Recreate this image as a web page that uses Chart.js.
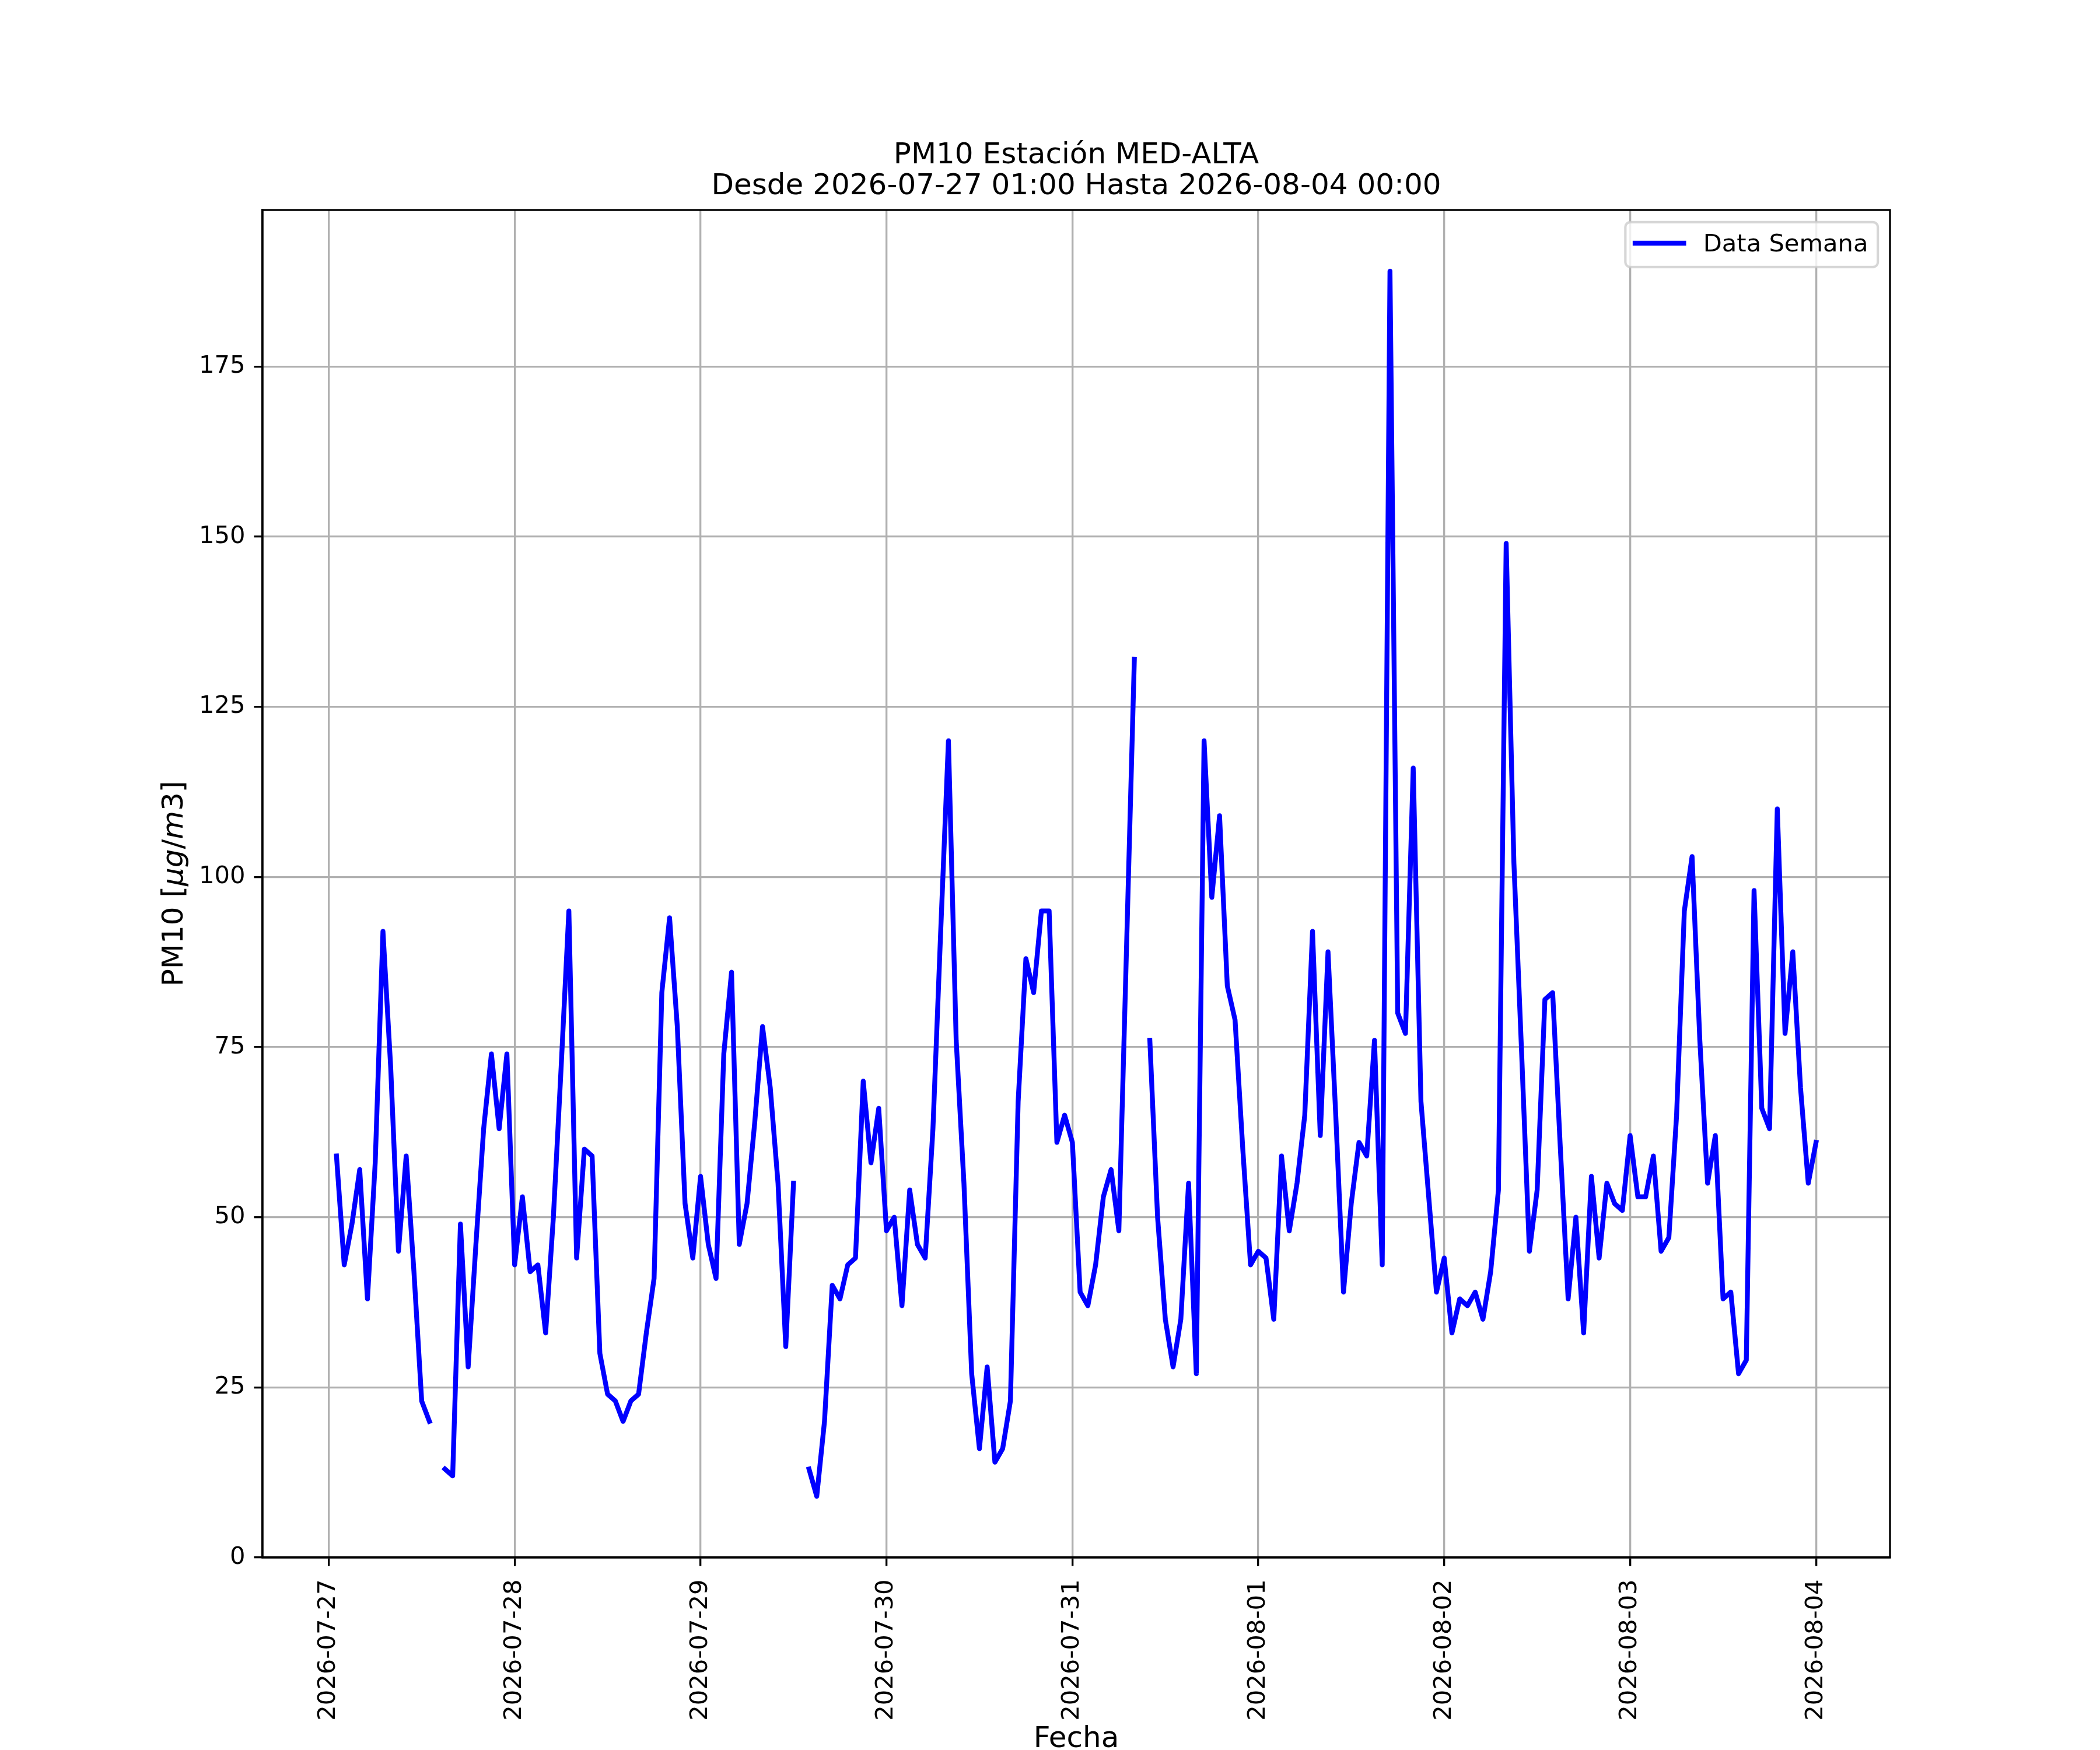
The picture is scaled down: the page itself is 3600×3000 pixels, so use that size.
<!DOCTYPE html>
<html>
<head>
<meta charset="utf-8">
<title>PM10 Estación MED-ALTA</title>
<script src="https://cdn.jsdelivr.net/npm/chart.js@4.4.1/dist/chart.umd.min.js"></script>
<style>
  html, body { margin: 0; padding: 0; background: #fff; }
  #pm10 { display: block; width: 3600px; height: 3000px; }
</style>
</head>
<body>
<canvas id="pm10" width="3600" height="3000"></canvas>
<script>
// valores horarios PM10, cada fila = 01:00 .. 00:00 del dia siguiente (null = sin dato)
const day0727 = [59, 43, 49, 57, 38, 58, 92, 72, 45, 59, 42, 23, 20, null, 13, 12, 49, 28, 46, 63, 74, 63, 74, 43];
const day0728 = [53, 42, 43, 33, 50, 72, 95, 44, 60, 59, 30, 24, 23, 20, 23, 24, 33, 41, 83, 94, 78, 52, 44, 56];
const day0729 = [46, 41, 74, 86, 46, 52, 64, 78, 69, 55, 31, 55, null, 13, 9, 20, 40, 38, 43, 44, 70, 58, 66, 48];
const day0730 = [50, 37, 54, 46, 44, 63, 92, 120, 76, 55, 27, 16, 28, 14, 16, 23, 67, 88, 83, 95, 95, 61, 65, 61];
const day0731 = [39, 37, 43, 53, 57, 48, 90, 132, null, 76, 50, 35, 28, 35, 55, 27, 120, 97, 109, 84, 79, 60, 43, 45];
const day0801 = [44, 35, 59, 48, 55, 65, 92, 62, 89, 65, 39, 52, 61, 59, 76, 43, 189, 80, 77, 116, 67, 53, 39, 44];
const day0802 = [33, 38, 37, 39, 35, 42, 54, 149, 102, 74, 45, 54, 82, 83, 60, 38, 50, 33, 56, 44, 55, 52, 51, 62];
const day0803 = [53, 53, 59, 45, 47, 65, 95, 103, 76, 55, 62, 38, 39, 27, 29, 98, 66, 63, 110, 77, 89, 69, 55, 61];

const pm10 = [].concat(day0727, day0728, day0729, day0730, day0731, day0801, day0802, day0803);

// eje x en horas desde 2026-07-27 00:00
const firstHour = 1;
const tickHours = [0, 24, 48, 72, 96, 120, 144, 168, 192];
const tickLabels = ['2026-07-27', '2026-07-28', '2026-07-29', '2026-07-30', '2026-07-31',
                    '2026-08-01', '2026-08-02', '2026-08-03', '2026-08-04'];
const yTicks = [0, 25, 50, 75, 100, 125, 150, 175];

const titleLines = ['PM10 Estación MED-ALTA', 'Desde 2026-07-27 01:00 Hasta 2026-08-04 00:00'];
const xLabel = 'Fecha';
const yLabelParts = [['PM10 [', ''], ['μg', 'italic '], ['/', ''], ['m', 'italic '], ['3', ''], [']', '']];
const seriesName = 'Data Semana';

const PT = 300 / 72;          // figura a 300 dpi
const FONT = '"DejaVu Sans"';
const tickFont = { family: 'DejaVu Sans', size: 10 * PT };
const LINE_W = 2 * PT;

const points = pm10.map((v, i) => ({ x: firstHour + i, y: v }));

// margenes 5% como matplotlib
const xMin = firstHour - 0.05 * (pm10.length - 1);
const xMax = firstHour + (pm10.length - 1) * 1.05;

function axisStyle() {
    return {
        grid: { color: '#b0b0b0', lineWidth: 0.8 * PT, tickColor: '#000', tickLength: 3.5 * PT, tickWidth: 0.8 * PT },
        border: { display: true, color: '#000', width: 0.8 * PT }
    };
}

// textos de la figura, marco y leyenda
const figureText = {
    id: 'figureText',
    afterDraw(chart) {
        const { ctx, chartArea: a } = chart;
        const cx = (a.left + a.right) / 2;
        ctx.save();

        ctx.strokeStyle = '#000';
        ctx.lineWidth = 0.8 * PT;
        ctx.strokeRect(a.left, a.top, a.right - a.left, a.bottom - a.top);

        ctx.fillStyle = '#000';
        ctx.textBaseline = 'alphabetic';
        ctx.textAlign = 'center';
        ctx.font = `${12 * PT}px ${FONT}`;
        ctx.fillText(titleLines[0], cx, a.top - 80);
        ctx.fillText(titleLines[1], cx, a.top - 27);
        ctx.fillText(xLabel, cx, chart.height - 5);

        // etiqueta y con parte matematica en cursiva
        ctx.textAlign = 'left';
        let total = 0;
        yLabelParts.forEach(p => {
            ctx.font = `${p[1]}${12 * PT}px ${FONT}`;
            total += ctx.measureText(p[0]).width;
        });
        ctx.translate(a.left - 137, (a.top + a.bottom) / 2);
        ctx.rotate(-Math.PI / 2);
        let px = -total / 2;
        yLabelParts.forEach(p => {
            ctx.font = `${p[1]}${12 * PT}px ${FONT}`;
            ctx.fillText(p[0], px, 0);
            px += ctx.measureText(p[0]).width;
        });
        ctx.setTransform(1, 0, 0, 1, 0, 0);

        // leyenda
        const fs = 10 * PT;
        ctx.font = `${fs}px ${FONT}`;
        const tw = ctx.measureText(seriesName).width;
        const bw = 2 * 0.4 * fs + 2.0 * fs + 0.8 * fs + tw;
        const bh = 77;
        const bx = a.right - 0.5 * fs - bw;
        const by = a.top + 0.5 * fs;
        const r = 0.2 * fs;
        ctx.beginPath();
        ctx.moveTo(bx + r, by);
        ctx.arcTo(bx + bw, by, bx + bw, by + bh, r);
        ctx.arcTo(bx + bw, by + bh, bx, by + bh, r);
        ctx.arcTo(bx, by + bh, bx, by, r);
        ctx.arcTo(bx, by, bx + bw, by, r);
        ctx.closePath();
        ctx.fillStyle = 'rgba(255,255,255,0.8)';
        ctx.fill();
        ctx.strokeStyle = 'rgba(204,204,204,0.8)';
        ctx.lineWidth = 1.0 * PT;
        ctx.stroke();

        const hx = bx + 0.4 * fs;
        const hy = by + 36;
        ctx.strokeStyle = '#0000ff';
        ctx.lineWidth = LINE_W;
        ctx.lineCap = 'square';
        ctx.beginPath();
        ctx.moveTo(hx, hy);
        ctx.lineTo(hx + 2.0 * fs, hy);
        ctx.stroke();

        ctx.fillStyle = '#000';
        ctx.fillText(seriesName, hx + 2.0 * fs + 0.8 * fs, by + 50);
        ctx.restore();
    }
};

new Chart(document.getElementById('pm10'), {
    type: 'line',
    data: {
        datasets: [{
            label: seriesName,
            data: points,
            borderColor: '#0000ff',
            borderWidth: LINE_W,
            borderJoinStyle: 'round',
            borderCapStyle: 'square',
            pointRadius: 0,
            tension: 0,
            fill: false,
            spanGaps: false
        }]
    },
    options: {
        responsive: false,
        devicePixelRatio: 1,
        animation: false,
        layout: { padding: { left: 0, top: 360, right: 360, bottom: 0 } },
        plugins: {
            legend: { display: false },
            tooltip: { enabled: false },
            title: { display: false }
        },
        scales: {
            x: {
                type: 'linear',
                min: xMin,
                max: xMax,
                afterBuildTicks: s => { s.ticks = tickHours.map(v => ({ value: v })); },
                afterFit: s => { s.height = 330; },
                ticks: {
                    autoSkip: false,
                    minRotation: 90,
                    maxRotation: 90,
                    padding: 23,
                    color: '#000',
                    font: tickFont,
                    callback: v => tickLabels[tickHours.indexOf(v)]
                },
                ...axisStyle()
            },
            y: {
                min: 0,
                max: 198,
                afterBuildTicks: s => { s.ticks = yTicks.map(v => ({ value: v })); },
                afterFit: s => { s.width = 450; },
                ticks: { padding: 15, color: '#000', font: tickFont },
                ...axisStyle()
            }
        }
    },
    plugins: [figureText]
});
</script>
</body>
</html>
